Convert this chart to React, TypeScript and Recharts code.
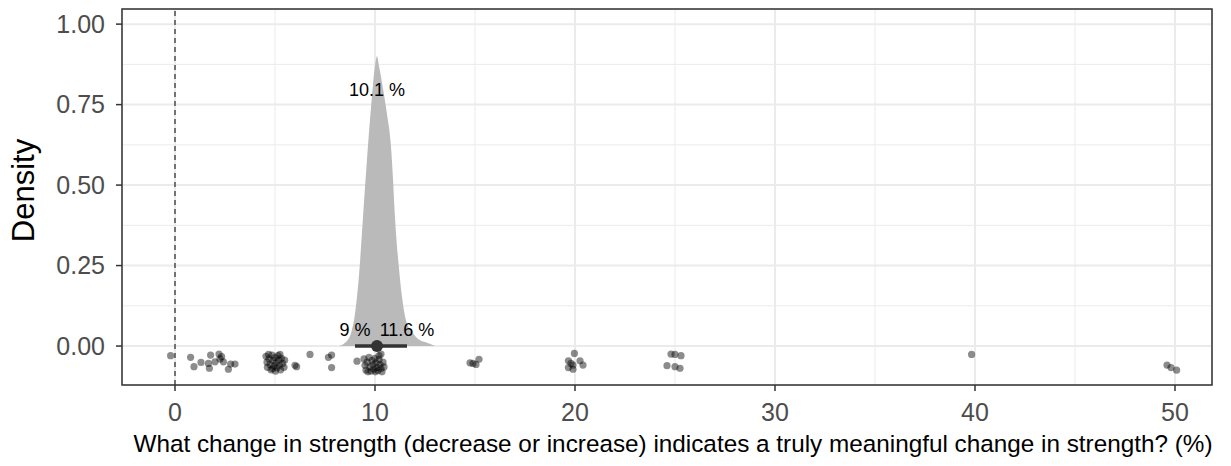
import React from 'react';
import {
  ComposedChart,
  Area,
  Scatter,
  XAxis,
  YAxis,
  CartesianGrid,
  ReferenceLine,
  ReferenceDot,
  ReferenceArea,
} from 'recharts';

const xTicks = [0, 10, 20, 30, 40, 50];
const xMinorTicks = [5, 15, 25, 35, 45];
const yTicks = [0, 0.25, 0.5, 0.75, 1];
const yMinorTicks = [0.125, 0.375, 0.625, 0.875];
const yTickLabels = ['0.00', '0.25', '0.50', '0.75', '1.00'];

const densityX = [8.2, 8.5, 8.8, 9.0, 9.2, 9.4, 9.6, 9.8, 10.0, 10.1, 10.2, 10.4, 10.6, 10.8, 10.9, 11.0, 11.2, 11.4, 11.6, 11.9, 12.2, 12.6, 13.0];
const densityY = [0, 0.01, 0.04, 0.1, 0.22, 0.4, 0.58, 0.74, 0.87, 0.9, 0.87, 0.8, 0.72, 0.62, 0.52, 0.4, 0.24, 0.13, 0.07, 0.04, 0.02, 0.01, 0];

const pointsX = [
  -0.22, 0.78, 0.95, 1.3, 1.67, 1.72, 1.78, 2.0, 2.2, 2.33, 2.42, 2.67, 2.78, 3.0, 2.25,
  4.55, 4.6, 4.62, 4.7, 4.75, 4.8, 4.85, 4.9, 4.95, 5.0, 5.02, 5.05, 5.1, 5.15, 5.18, 5.22, 5.28, 5.32, 5.38, 5.45, 5.48, 4.68, 5.25, 4.88,
  6.0, 6.08, 6.75, 7.67, 7.83, 7.83,
  9.1, 10.3, 9.45, 9.5, 9.55, 9.6, 9.7, 9.75, 9.8, 9.85, 9.9, 9.95, 10.0, 10.02, 10.05, 10.1, 10.15, 10.2, 10.25, 10.3, 10.35, 10.4, 10.45, 9.65, 10.2,
  14.75, 14.9, 15.05, 15.2,
  19.97, 19.67, 19.8, 19.9, 19.67, 19.9, 20.25, 20.4,
  24.8, 25.0, 25.3, 24.6, 25.0, 25.25,
  39.83,
  49.6, 49.8, 50.08,
];
const pointsY = [
  -0.03, -0.035, -0.064, -0.051, -0.054, -0.069, -0.028, -0.049, -0.025, -0.033, -0.049, -0.072, -0.056, -0.056, -0.04,
  -0.032, -0.05, -0.066, -0.04, -0.058, -0.074, -0.028, -0.045, -0.062, -0.036, -0.078, -0.052, -0.068, -0.03, -0.044, -0.06, -0.074, -0.038, -0.054, -0.066, -0.044, -0.026, -0.026, -0.07,
  -0.06, -0.064, -0.026, -0.035, -0.028, -0.067,
  -0.047, -0.025, -0.04, -0.06, -0.075, -0.05, -0.035, -0.065, -0.078, -0.045, -0.058, -0.072, -0.038, -0.08, -0.052, -0.066, -0.076, -0.042, -0.058, -0.07, -0.08, -0.05, -0.065, -0.08, -0.03,
  -0.052, -0.054, -0.057, -0.041,
  -0.023, -0.046, -0.054, -0.059, -0.067, -0.072, -0.046, -0.059,
  -0.025, -0.026, -0.03, -0.061, -0.064, -0.069,
  -0.026,
  -0.059, -0.067, -0.075,
];

const medianValue = 10.1;
const intervalLow = 9;
const intervalHigh = 11.6;
const medianLabel = '10.1 %';
const lowLabel = '9 %';
const highLabel = '11.6 %';
const xTitle = 'What change in strength (decrease or increase) indicates a truly meaningful change in strength? (%)';
const yTitle = 'Density';

const xDomain: [number, number] = [-2.65, 51.85];
const yDomain: [number, number] = [-0.121, 1.047];

const densityData = densityX.map((x, i) => ({ x, y: densityY[i] }));
const pointData = pointsX.map((x, i) => ({ x, y: pointsY[i] }));

const FONT = '"Liberation Sans", Arial, Helvetica, sans-serif';

const DensityLabel = (props: any) => {
  const vb = props.viewBox || { x: 0, y: 1, width: 114, height: 376 };
  const x = vb.x + 26;
  const y = vb.y + vb.height / 2 - 6.5;
  return (
    <text
      x={x}
      y={y}
      transform={`rotate(-90 ${x} ${y})`}
      textAnchor="middle"
      fontSize={31}
      fill="#000000"
      fontFamily={FONT}
    >
      {yTitle}
    </text>
  );
};

export default function App() {
  return (
    <div style={{ width: 1223, height: 458 }}>
      <ComposedChart
        width={1223}
        height={458}
        data={densityData}
        margin={{ top: 1, right: 19, bottom: 0, left: 0 }}
        style={{ fontFamily: FONT }}
      >
        <XAxis xAxisId="minor" type="number" dataKey="x" domain={xDomain} ticks={xMinorTicks} allowDataOverflow hide />
        <YAxis yAxisId="minor" type="number" domain={yDomain} ticks={yMinorTicks} allowDataOverflow hide />
        <XAxis
          xAxisId="main"
          type="number"
          dataKey="x"
          domain={xDomain}
          ticks={xTicks}
          allowDataOverflow
          axisLine={false}
          tickLine={{ stroke: '#333333', strokeWidth: 1.5 }}
          tickSize={6}
          tickMargin={12}
          tick={{ fill: '#4d4d4d', fontSize: 25, fontFamily: FONT }}
          height={81}
          label={{ value: xTitle, position: 'insideBottom', offset: 14, dx: 6, fontSize: 24.3, fill: '#000000', fontFamily: FONT }}
        />
        <YAxis
          yAxisId="main"
          type="number"
          domain={yDomain}
          ticks={yTicks}
          allowDataOverflow
          axisLine={false}
          tickLine={{ stroke: '#333333', strokeWidth: 1.5 }}
          tickSize={6}
          tickMargin={11}
          tickFormatter={(v: number) => yTickLabels[yTicks.indexOf(v)] ?? String(v)}
          tick={{ fill: '#4d4d4d', fontSize: 25, fontFamily: FONT }}
          width={114}
          label={<DensityLabel />}
        />
        <CartesianGrid xAxisId="minor" yAxisId="minor" stroke="#ebebeb" strokeWidth={1} />
        <CartesianGrid xAxisId="main" yAxisId="main" stroke="#ebebeb" strokeWidth={2} />
        <ReferenceLine xAxisId="main" yAxisId="main" x={0} stroke="#333333" strokeWidth={1.3} strokeDasharray="5 4" />
        <Area
          xAxisId="main"
          yAxisId="main"
          type="monotone"
          dataKey="y"
          baseValue={0}
          stroke="none"
          fill="#bababa"
          fillOpacity={1}
          isAnimationActive={false}
        />
        <Scatter
          xAxisId="main"
          yAxisId="main"
          data={pointData}
          dataKey="y"
          fill="#000000"
          fillOpacity={0.45}
          shape={(p: any) => <circle cx={p.cx} cy={p.cy} r={3.6} fill="#000000" fillOpacity={0.45} />}
          isAnimationActive={false}
        />
        <ReferenceLine
          xAxisId="main"
          yAxisId="main"
          segment={[{ x: intervalLow, y: 0 }, { x: intervalHigh, y: 0 }]}
          stroke="#333333"
          strokeWidth={3.5}
        />
        <ReferenceDot xAxisId="main" yAxisId="main" x={medianValue} y={0} r={6} fill="#333333" stroke="none" />
        <ReferenceDot
          xAxisId="main"
          yAxisId="main"
          x={medianValue}
          y={0.798}
          r={0}
          stroke="none"
          fill="none"
          label={{ value: medianLabel, position: 'center', fontSize: 18, fill: '#000000', fontFamily: FONT }}
        />
        <ReferenceDot
          xAxisId="main"
          yAxisId="main"
          x={intervalLow}
          y={0.05}
          r={0}
          stroke="none"
          fill="none"
          label={{ value: lowLabel, position: 'center', fontSize: 18, fill: '#000000', fontFamily: FONT }}
        />
        <ReferenceDot
          xAxisId="main"
          yAxisId="main"
          x={intervalHigh}
          y={0.05}
          r={0}
          stroke="none"
          fill="none"
          label={{ value: highLabel, position: 'center', fontSize: 18, fill: '#000000', fontFamily: FONT }}
        />
        <ReferenceArea
          xAxisId="main"
          yAxisId="main"
          x1={xDomain[0]}
          x2={xDomain[1]}
          y1={yDomain[0]}
          y2={yDomain[1]}
          fill="none"
          fillOpacity={0}
          stroke="#333333"
          strokeWidth={1.5}
        />
      </ComposedChart>
    </div>
  );
}
